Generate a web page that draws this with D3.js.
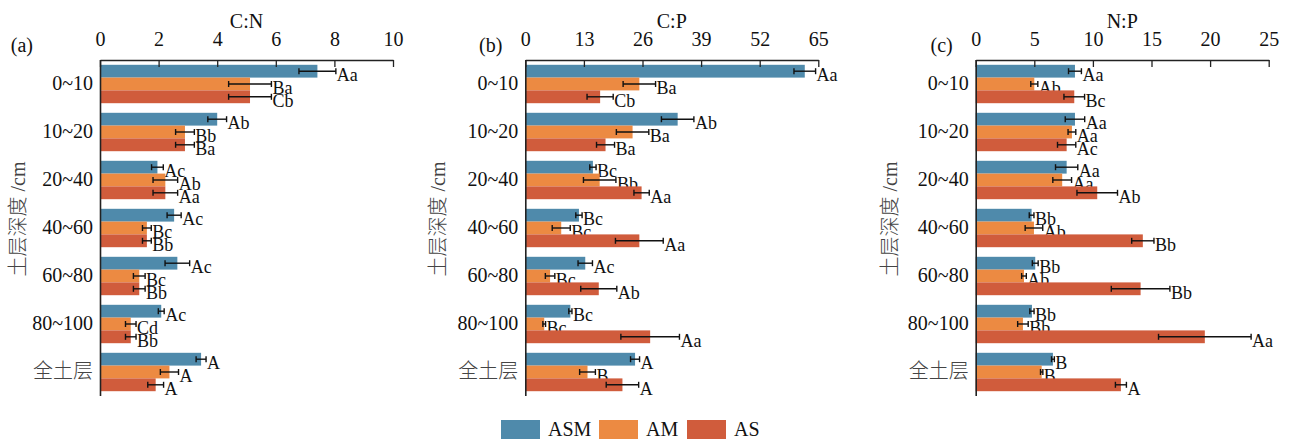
<!DOCTYPE html>
<html>
<head>
<meta charset="utf-8">
<script src="https://cdn.jsdelivr.net/npm/d3@7"></script>
<style>
  body { margin: 0; background: #fff; }
  svg { display: block; }
  svg text { font-family: "Times New Roman", "Liberation Serif", "DejaVu Serif", serif; }
  svg text.cjk, svg tspan.cjk { font-family: "Noto Sans CJK SC", sans-serif; font-weight: 300; }
</style>
</head>
<body>
<svg width="1289" height="439"></svg>
<script>
// depth layers (y categories)
const depths = ["0~10", "10~20", "20~40", "40~60", "60~80", "80~100", "全土层"];
const groups = ["ASM", "AM", "AS"];

// C:N  means / errors / letters, one array per group
const cnASM = [7.42, 4.0, 1.96, 2.53, 2.64, 2.09, 3.45];
const cnAM  = [5.12, 2.9, 2.23, 1.6, 1.34, 1.05, 2.37];
const cnAS  = [5.12, 2.9, 2.23, 1.6, 1.34, 1.05, 1.9];
const cnErrASM = [0.63, 0.32, 0.2, 0.24, 0.42, 0.1, 0.17];
const cnErrAM  = [0.73, 0.32, 0.42, 0.15, 0.2, 0.18, 0.31];
const cnErrAS  = [0.73, 0.32, 0.42, 0.15, 0.2, 0.18, 0.27];
const cnLabASM = ["Aa", "Ab", "Ac", "Ac", "Ac", "Ac", "A"];
const cnLabAM  = ["Ba", "Bb", "Ab", "Bc", "Bc", "Cd", "A"];
const cnLabAS  = ["Cb", "Ba", "Aa", "Bb", "Bb", "Bb", "A"];

// C:P
const cpASM = [62.0, 33.8, 15.0, 11.9, 13.3, 10.0, 24.35];
const cpAM  = [25.3, 23.8, 16.5, 7.97, 5.5, 4.2, 13.8];
const cpAS  = [16.6, 17.8, 25.8, 25.3, 16.3, 27.7, 21.55];
const cpErrASM = [2.4, 3.6, 0.7, 0.7, 1.6, 0.35, 1.0];
const cpErrAM  = [3.6, 3.6, 3.6, 2.0, 1.05, 0.3, 1.75];
const cpErrAS  = [2.9, 2.0, 1.7, 5.3, 4.0, 6.5, 3.6];
const cpLabASM = ["Aa", "Ab", "Bc", "Bc", "Ac", "Bc", "A"];
const cpLabAM  = ["Ba", "Ba", "Bb", "Bc", "Bc", "Bc", "B"];
const cpLabAS  = ["Cb", "Ba", "Aa", "Aa", "Ab", "Aa", "A"];

// N:P
const npASM = [8.47, 8.47, 7.76, 4.77, 5.08, 4.8, 6.59];
const npAM  = [5.0, 8.21, 7.38, 4.97, 4.12, 4.03, 5.63];
const npAS  = [8.41, 7.76, 10.37, 14.26, 14.07, 19.55, 12.39];
const npErrASM = [0.55, 0.83, 0.95, 0.2, 0.25, 0.18, 0.12];
const npErrAM  = [0.3, 0.33, 0.8, 0.75, 0.2, 0.45, 0.1];
const npErrAS  = [0.88, 0.78, 1.73, 0.95, 2.5, 3.95, 0.47];
const npLabASM = ["Aa", "Aa", "Aa", "Bb", "Bb", "Bb", "B"];
const npLabAM  = ["Ab", "Aa", "Aa", "Ab", "Ab", "Bb", "B"];
const npLabAS  = ["Bc", "Ac", "Ab", "Bb", "Bb", "Aa", "A"];

const cnTicks = [0, 2, 4, 6, 8, 10];
const cpTicks = [0, 13, 26, 39, 52, 65];
const npTicks = [0, 5, 10, 15, 20, 25];

const colors = { "ASM": "#4f8aab", "AM": "#ec8a42", "AS": "#d05c3c" };

const svg = d3.select("svg");
const plotTop = 60, plotBottom = 396, plotW = 293;

function panel(cfg) {
  const g = svg.append("g").attr("transform", `translate(${cfg.left},0)`);

  const x = d3.scaleLinear().domain([0, cfg.ticks[cfg.ticks.length - 1]]).range([0, plotW]);
  const y = d3.scaleBand().domain(depths).range([plotTop, plotBottom]).paddingInner(0.2).paddingOuter(0.1);
  const yIn = d3.scaleBand().domain(groups).range([0, y.bandwidth()]);

  // bars
  groups.forEach((grp, gi) => {
    const vals = cfg.values[gi], errs = cfg.errors[gi], labs = cfg.letters[gi];
    const rows = depths.map((d, i) => ({ depth: d, v: vals[i], e: errs[i], lab: labs[i] }));
    const cy = d => y(d.depth) + yIn(grp) + yIn.bandwidth() / 2;

    g.selectAll(`.bar-${grp}`)
      .data(rows)
      .enter()
      .append("rect")
      .attr("x", x(0))
      .attr("y", d => y(d.depth) + yIn(grp))
      .attr("width", d => x(d.v) - x(0))
      .attr("height", yIn.bandwidth())
      .attr("fill", colors[grp]);

    const eb = g.selectAll(`.err-${grp}`)
      .data(rows)
      .enter()
      .append("g")
      .attr("stroke", "#111")
      .attr("stroke-width", 1.4);
    eb.append("line")
      .attr("x1", d => x(d.v - d.e)).attr("x2", d => x(d.v + d.e))
      .attr("y1", cy).attr("y2", cy);
    eb.append("line")
      .attr("x1", d => x(d.v - d.e)).attr("x2", d => x(d.v - d.e))
      .attr("y1", d => cy(d) - 3).attr("y2", d => cy(d) + 3);
    eb.append("line")
      .attr("x1", d => x(d.v + d.e)).attr("x2", d => x(d.v + d.e))
      .attr("y1", d => cy(d) - 3).attr("y2", d => cy(d) + 3);

    g.selectAll(`.lab-${grp}`)
      .data(rows)
      .enter()
      .append("text")
      .attr("x", d => x(d.v + d.e) + 1)
      .attr("y", d => cy(d) + 10)
      .attr("font-size", 18)
      .attr("fill", "#111")
      .text(d => d.lab);
  });

  // top axis, ticks pointing into the plot
  const xAxis = g.append("g")
    .attr("transform", `translate(0,${plotTop})`)
    .call(d3.axisTop(x).tickValues(cfg.ticks).tickSize(-7).tickSizeOuter(0).tickPadding(14));
  xAxis.selectAll("text").attr("font-size", 20).attr("fill", "#111");
  xAxis.selectAll("line, path").attr("stroke", "#222").attr("stroke-width", 1.3);

  // left axis
  const yAxis = g.append("g")
    .call(d3.axisLeft(y).tickSize(0).tickPadding(7));
  yAxis.select("path").attr("d", `M0.5,${plotTop}V${plotBottom}`).attr("stroke", "#222").attr("stroke-width", 1.6);
  yAxis.selectAll("text")
    .attr("font-size", 20)
    .attr("fill", d => d === "全土层" ? "#444" : "#111")
    .classed("cjk", d => d === "全土层");

  // titles
  g.append("text")
    .attr("x", plotW / 2).attr("y", 28)
    .attr("text-anchor", "middle")
    .attr("font-size", 20)
    .attr("fill", "#111")
    .text(cfg.title);
  g.append("text")
    .attr("x", cfg.tagX).attr("y", 52)
    .attr("text-anchor", "end")
    .attr("font-size", 20)
    .attr("fill", "#111")
    .text(cfg.tag);
  const yt = g.append("text")
    .attr("transform", `translate(${cfg.yTitleX},219) rotate(-90)`)
    .attr("text-anchor", "middle")
    .attr("dominant-baseline", "middle")
    .attr("font-size", 20)
    .attr("fill", "#444");
  yt.append("tspan").attr("class", "cjk").text("土层深度");
  yt.append("tspan").text(" /cm");
}

panel({ left: 100, title: "C:N", tag: "(a)", tagX: -67, yTitleX: -80, ticks: cnTicks,
  values: [cnASM, cnAM, cnAS], errors: [cnErrASM, cnErrAM, cnErrAS], letters: [cnLabASM, cnLabAM, cnLabAS] });
panel({ left: 525.3, title: "C:P", tag: "(b)", tagX: -23, yTitleX: -85, ticks: cpTicks,
  values: [cpASM, cpAM, cpAS], errors: [cpErrASM, cpErrAM, cpErrAS], letters: [cpLabASM, cpLabAM, cpLabAS] });
panel({ left: 975.7, title: "N:P", tag: "(c)", tagX: -23, yTitleX: -84, ticks: npTicks,
  values: [npASM, npAM, npAS], errors: [npErrASM, npErrAM, npErrAS], letters: [npLabASM, npLabAM, npLabAS] });

// legend
const legendX = [501, 599, 687];
const legend = svg.append("g");
groups.forEach((grp, i) => {
  legend.append("rect")
    .attr("x", legendX[i]).attr("y", 420)
    .attr("width", 39).attr("height", 19)
    .attr("fill", colors[grp]);
  legend.append("text")
    .attr("x", legendX[i] + 47).attr("y", 436)
    .attr("font-size", 20)
    .attr("fill", "#111")
    .text(grp);
});
</script>
</body>
</html>
